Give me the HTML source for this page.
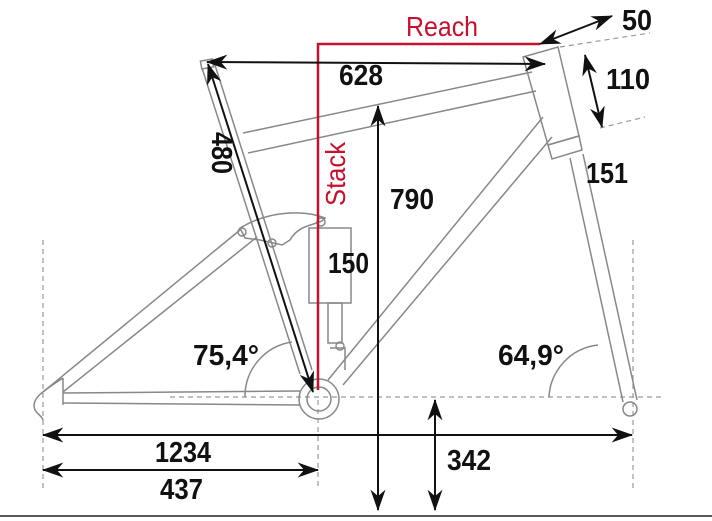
<!DOCTYPE html>
<html><head><meta charset="utf-8"><style>html,body{margin:0;padding:0;background:#fff}svg{display:block}</style></head>
<body>
<svg width="712" height="521" viewBox="0 0 712 521" xmlns="http://www.w3.org/2000/svg">
<defs>
<marker id="a" viewBox="0 0 20 14" refX="19" refY="7" markerWidth="22" markerHeight="15" markerUnits="userSpaceOnUse" orient="auto-start-reverse">
<path d="M0,0 L20,7 L0,14 L6,7 z" fill="#111"/></marker>
</defs>
<g fill="none" stroke="#999" stroke-dasharray="5,4" stroke-width="1.2">
<line x1="170" y1="397" x2="662" y2="397"/>
<line x1="43" y1="240" x2="43" y2="490"/>
<line x1="318" y1="400" x2="318" y2="490"/>
<line x1="633" y1="240" x2="633" y2="490"/>
<line x1="560" y1="47" x2="650" y2="33"/>
<line x1="600" y1="128" x2="645" y2="117"/>
</g>
<g fill="none" stroke="#888" stroke-width="1.5">
<path d="M245,397 A55,55 0 0 1 292,342"/>
<path d="M549,397 A55,55 0 0 1 598,345"/>
<line x1="202" y1="68" x2="300" y2="374"/>
<line x1="214" y1="62" x2="312" y2="370"/>
<rect x="201" y="60" width="12" height="8" transform="rotate(-10 207 64)"/>
<line x1="243" y1="133" x2="532" y2="72"/>
<line x1="248" y1="153" x2="536" y2="91"/>
<polygon points="523,57 558,47 579,136 548,145"/>
<polygon points="548,145 579,136 582,150 552,159"/>
<line x1="570" y1="158" x2="623" y2="402"/>
<line x1="583" y1="154" x2="637" y2="400"/>
<circle cx="630" cy="409" r="7"/>
<line x1="543" y1="117" x2="328" y2="380"/>
<line x1="552" y1="137" x2="343" y2="385"/>
<line x1="63" y1="393" x2="300" y2="391"/>
<line x1="63" y1="403" x2="300" y2="405"/>
<line x1="43" y1="392" x2="240" y2="230"/>
<line x1="63" y1="392" x2="257" y2="237"/>
<line x1="63" y1="378" x2="63" y2="405"/>
<path d="M63,378 C45,390 30,398 35,410 C38,415 42,416 43,420"/>
<path d="M240,228 C270,210 305,210 325,218 C320,226 300,222 290,240 L282,245 L260,240 L245,238 Z"/>
<circle cx="242" cy="232" r="4"/><circle cx="272" cy="243" r="4"/><circle cx="321" cy="222" r="4"/>
<rect x="309" y="228" width="42" height="75"/>
<rect x="328" y="303" width="14" height="40"/>
<circle cx="340" cy="346" r="4"/>
<path d="M330,348 L345,348 L345,370"/>
<circle cx="319" cy="399" r="20"/>
<circle cx="319" cy="399" r="12"/>
</g>
<g fill="none" stroke="#c8102e" stroke-width="2.5">
<polyline points="318,390 318,44 540,44"/>
</g>
<g stroke="#111" stroke-width="2" fill="none">
<line x1="207" y1="62" x2="545" y2="64" marker-start="url(#a)" marker-end="url(#a)"/>
<line x1="208" y1="64" x2="313" y2="392" marker-start="url(#a)" marker-end="url(#a)"/>
<line x1="378" y1="106" x2="378" y2="510" marker-start="url(#a)" marker-end="url(#a)"/>
<line x1="435" y1="400" x2="435" y2="510" marker-start="url(#a)" marker-end="url(#a)"/>
<line x1="43" y1="435" x2="632" y2="435" marker-start="url(#a)" marker-end="url(#a)"/>
<line x1="43" y1="470" x2="318" y2="470" marker-start="url(#a)" marker-end="url(#a)"/>
<line x1="540" y1="44" x2="612" y2="16" marker-start="url(#a)" marker-end="url(#a)"/>
<line x1="585" y1="55" x2="602" y2="127" marker-start="url(#a)" marker-end="url(#a)"/>
</g>
<line x1="0" y1="516" x2="712" y2="516" stroke="#222" stroke-width="1.5"/>
<g font-family="Liberation Sans, sans-serif" font-weight="bold" font-size="29" fill="#111">
<text x="339" y="85" textLength="44" lengthAdjust="spacingAndGlyphs">628</text>
<text x="390" y="209" textLength="44" lengthAdjust="spacingAndGlyphs">790</text>
<text x="328" y="273" textLength="41" lengthAdjust="spacingAndGlyphs">150</text>
<text x="586" y="183" textLength="42" lengthAdjust="spacingAndGlyphs">151</text>
<text x="622" y="30" textLength="30" lengthAdjust="spacingAndGlyphs">50</text>
<text x="606" y="89" textLength="44" lengthAdjust="spacingAndGlyphs">110</text>
<text x="193" y="365" textLength="66" lengthAdjust="spacingAndGlyphs">75,4°</text>
<text x="498" y="365" textLength="66" lengthAdjust="spacingAndGlyphs">64,9°</text>
<text x="155" y="462" textLength="56" lengthAdjust="spacingAndGlyphs">1234</text>
<text x="160" y="499" textLength="43" lengthAdjust="spacingAndGlyphs">437</text>
<text x="447" y="470" textLength="44" lengthAdjust="spacingAndGlyphs">342</text>
<text transform="translate(212,132) rotate(90)" textLength="42" lengthAdjust="spacingAndGlyphs">480</text>
</g>
<g font-family="Liberation Sans, sans-serif" font-size="28" fill="#c8102e">
<text x="406" y="36" textLength="72" lengthAdjust="spacingAndGlyphs">Reach</text>
<text transform="translate(345,206) rotate(-90)" textLength="64" lengthAdjust="spacingAndGlyphs">Stack</text>
</g>
</svg>
</body></html>
